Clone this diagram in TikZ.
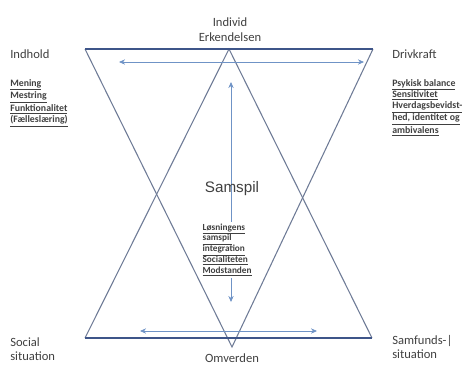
\documentclass[tikz,border=0pt]{standalone}
\usepackage{fontspec}
\setmainfont{Carlito}
\newfontfamily\arialfont{Liberation Sans}
\usepackage{tikz}
\usetikzlibrary{arrows.meta,positioning}
\definecolor{trigray}{HTML}{6E7B96}
\definecolor{basedark}{HTML}{3E5589}
\definecolor{arrowblue}{HTML}{6F93C6}
\definecolor{labelgray}{HTML}{404040}
\tikzset{
  corner/.style={
    font=\fontsize{9.5}{11}\selectfont,
    text=labelgray,
    align=left,
    inner sep=0pt,
    anchor=north west
  },
  keylist/.style={
    font=\fontsize{7.4}{8.4}\selectfont\bfseries,
    text=labelgray,
    align=left,
    inner sep=0pt,
    anchor=north west
  },
  pole/.style={
    font=\fontsize{9.5}{11.5}\selectfont,
    text=labelgray,
    align=center,
    inner sep=0pt
  },
  triline/.style={
    draw=trigray,
    thick
  },
  baseline/.style={
    draw=basedark,
    thick
  },
  arrow/.style={
    {Stealth[length=1.6mm,width=1.4mm]}-{Stealth[length=1.6mm,width=1.4mm]},
    draw=arrowblue,
    semithick
  }
}
\newcommand{\ul}[1]{\underline{#1}}

\begin{document}
\begin{tikzpicture}[x=0.0265cm,y=-0.0265cm]
\useasboundingbox (0,0) rectangle (463,367);
% corners of the two triangles
\coordinate (topleft) at (85,49);
\coordinate (topright) at (373,49);
\coordinate (downapex) at (232,347);
\coordinate (botleft) at (85,338);
\coordinate (botright) at (372,338);
\coordinate (upapex) at (229,49);
% arrow ends
\coordinate (topwest) at (119,62);
\coordinate (topeast) at (364,62);
\coordinate (botwest) at (140,331);
\coordinate (boteast) at (317,331);
\coordinate (vnorth) at (231,82);
\coordinate (vsouth) at (231,302);

\draw[triline] (topleft) -- (downapex) -- (topright);
\draw[triline] (botleft) -- (upapex) -- (botright);
\draw[baseline] (topleft) -- (topright);
\draw[baseline] (botleft) -- (botright);

\draw[arrow] (topwest) -- (topeast);
\draw[arrow] (botwest) -- (boteast);
\draw[arrow] (vnorth) -- (vsouth);

\node[pole] (individ) at (230,30) {Individ\\Erkendelsen};
\node[pole] (omverden) at (232,358) {Omverden};

\node[corner] (indhold) at (10,49) {Indhold};
\node[keylist] (indholdlist) at (10,79)
  {\ul{Mening}\\\ul{Mestring}\\\ul{Funktionalitet}\\\ul{(Fælleslæring)}};

\node[corner] (drivkraft) at (392,49) {Drivkraft};
\node[keylist] (drivlist) at (392,79)
  {\ul{Psykisk balance}\\\ul{Sensitivitet}\\\ul{Hverdagsbevidst-}\\\ul{hed, identitet og}\\\ul{ambivalens}};

\node[pole, font=\arialfont\fontsize{11.5}{13}\selectfont, text=black!75] (samspil) at (232,189) {Samspil};
\node[keylist, font=\fontsize{7}{8.2}\selectfont\bfseries, fill=white, inner sep=1pt] (samlist) at (201,222)
  {\ul{Løsningens}\\\ul{samspil}\\\ul{integration}\\\ul{Socialiteten}\\\ul{Modstanden}};

\node[corner] (social) at (10,337) {Social\\situation};
\node[corner] (samfund) at (392,335) {Samfunds-|\\situation};
\end{tikzpicture}
\end{document}
